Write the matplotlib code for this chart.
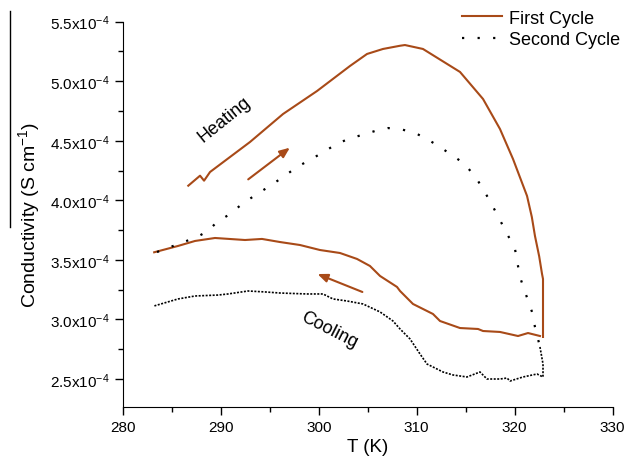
import matplotlib
matplotlib.use("Agg")
import matplotlib.pyplot as plt
from matplotlib.ticker import FuncFormatter, MultipleLocator
from matplotlib.lines import Line2D

plt.rcParams['font.family'] = ['Liberation Sans', 'DejaVu Sans']
plt.rcParams['mathtext.fontset'] = 'custom'
plt.rcParams['mathtext.rm'] = 'Liberation Sans'
plt.rcParams['mathtext.it'] = 'Liberation Sans:italic'

# First cycle: heating then cooling (conductivity in 1e-4 S/cm)
first_heat_T = [286.69, 287.89, 288.30, 288.91, 292.99, 296.36, 299.83, 303.19, 304.93,
                306.56, 308.30, 308.8, 310.64, 314.42, 316.77, 318.50, 319.83, 321.26,
                321.75, 322.07, 322.50, 322.79, 322.89, 322.89]
first_heat_s = [4.123, 4.207, 4.165, 4.238, 4.490, 4.725, 4.918, 5.128, 5.229,
                5.271, 5.298, 5.304, 5.271, 5.078, 4.851, 4.599, 4.347, 4.037,
                3.860, 3.701, 3.530, 3.382, 3.340, 2.853]
first_cool_T = [322.58, 321.36, 320.34, 318.50, 316.77, 316.26, 314.42, 312.38, 311.66,
                309.62, 308.30, 307.99, 306.26, 305.23, 303.91, 302.17, 300.13, 298.09,
                296.05, 294.21, 292.48, 289.42, 287.38, 285.64, 283.21]
first_cool_s = [2.861, 2.886, 2.861, 2.895, 2.903, 2.920, 2.928, 2.987, 3.046,
                3.130, 3.239, 3.273, 3.365, 3.449, 3.508, 3.558, 3.583, 3.625,
                3.650, 3.676, 3.667, 3.684, 3.659, 3.617, 3.564]

# Second cycle
second_heat_T = [283.50, 287.58, 288.70, 289.62, 290.95, 292.17, 293.70, 295.03, 296.36,
                 297.79, 298.91, 300.34, 301.66, 302.99, 304.42, 305.74, 307.07, 308.30,
                 309.83, 311.05, 312.38, 313.70, 314.93, 316.26, 317.48, 318.81, 320.03,
                 320.54, 320.95, 321.77, 322.07, 322.38, 322.58]
second_heat_s = [3.566, 3.692, 3.743, 3.818, 3.885, 3.969, 4.053, 4.121, 4.196,
                 4.280, 4.331, 4.398, 4.465, 4.515, 4.549, 4.582, 4.607, 4.599,
                 4.566, 4.515, 4.448, 4.373, 4.305, 4.163, 3.995, 3.785, 3.592,
                 3.357, 3.256, 3.063, 2.937, 2.836, 2.769]
second_cool_T = [322.58, 322.89, 322.89, 322.28, 320.85, 319.52, 319.22, 318.50, 317.17,
                 316.46, 315.13, 313.70, 312.68, 311.05, 310.34, 309.32, 308.30, 307.58,
                 306.26, 304.52, 302.89, 301.46, 300.44, 298.81, 296.05, 294.52, 292.79,
                 290.75, 289.73, 287.38, 285.64, 283.19]
second_cool_s = [2.769, 2.626, 2.517, 2.542, 2.517, 2.483, 2.508, 2.500, 2.500,
                 2.559, 2.517, 2.534, 2.559, 2.626, 2.710, 2.836, 2.920, 2.987,
                 3.063, 3.130, 3.155, 3.172, 3.214, 3.214, 3.222, 3.231, 3.239,
                 3.214, 3.205, 3.197, 3.172, 3.113]

x_ticks = [280, 290, 300, 310, 320, 330]
y_ticks = [2.5, 3.0, 3.5, 4.0, 4.5, 5.0, 5.5]

brown = '#A84A18'

fig = plt.figure(figsize=(6.3, 4.64), dpi=100)
ax = fig.add_axes([0.1948, 0.1207, 0.7777, 0.8304])

scale = 1e-4
ax.plot(first_heat_T, [v * scale for v in first_heat_s], color=brown, lw=1.5,
        label='First Cycle')
ax.plot(first_cool_T, [v * scale for v in first_cool_s], color=brown, lw=1.5)
ax.plot(second_heat_T, [v * scale for v in second_heat_s], color='black', lw=1.6,
        linestyle=(0, (1, 6)), label='Second Cycle')
ax.plot(second_cool_T, [v * scale for v in second_cool_s], color='black', lw=1.2,
        linestyle=(0, (1.2, 0.9)))

ax.set_xlim(280, 330)
ax.set_ylim(2.265e-4, 5.5e-4)
ax.set_xticks(x_ticks)
ax.set_yticks([v * scale for v in y_ticks])
ax.xaxis.set_minor_locator(MultipleLocator(5))
ax.yaxis.set_minor_locator(MultipleLocator(0.25e-4))
ax.yaxis.set_major_formatter(FuncFormatter(lambda v, p: f"{v / scale:.1f}x10$^{{-4}}$"))
ax.tick_params(which='major', direction='out', length=5.8, width=1, labelsize=11)
ax.tick_params(which='minor', direction='out', length=3.6, width=1)
for s in ('top', 'right'):
    ax.spines[s].set_visible(False)

ax.set_xlabel('T (K)', fontsize=13.5, labelpad=3)
ax.set_ylabel('Conductivity (S cm$^{-1}$)', fontsize=14, labelpad=6)

ax.annotate('', xy=(297.28, 4.456e-4), xytext=(292.58, 4.162e-4),
            arrowprops=dict(arrowstyle='-|>,head_length=0.6,head_width=0.25',
                            color=brown, lw=1.5))
ax.annotate('', xy=(299.62, 3.390e-4), xytext=(304.72, 3.222e-4),
            arrowprops=dict(arrowstyle='-|>,head_length=0.6,head_width=0.25',
                            color=brown, lw=1.5))
ax.text(290.34, 4.683e-4, 'Heating', rotation=39, fontsize=13,
        ha='center', va='center')
ax.text(301.05, 2.92e-4, 'Cooling', rotation=-27, fontsize=13,
        ha='center', va='center')

leg = ax.legend(loc='upper right', bbox_to_anchor=(1.03, 1.05), frameon=False,
                fontsize=13, handlelength=2.2, handletextpad=0.4,
                labelspacing=0.25, borderaxespad=0)

fig.add_artist(Line2D([10 / 630, 10 / 630], [1 - 12 / 464, 1 - 228 / 464],
                      color='black', lw=1))

fig.savefig('out.png', dpi=100)
